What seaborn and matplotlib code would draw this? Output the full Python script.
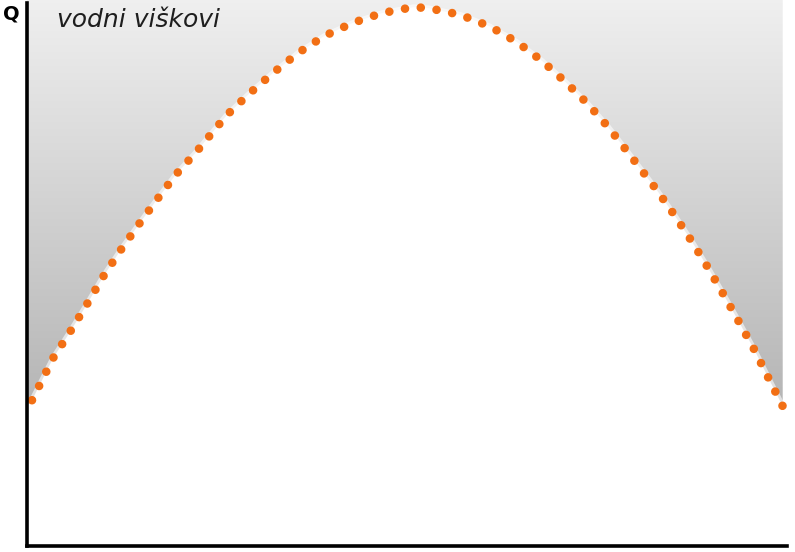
import numpy as np
import pandas as pd
import matplotlib
matplotlib.use("Agg")
import matplotlib.pyplot as plt
import seaborn as sns

# Curve (x: 0-100 along the time axis, Q: 0-100)
x_vals = [0.65, 3.39, 5.60, 7.81, 9.90, 12.1, 14.5, 16.9, 19.3, 22.0,
          26.0, 28.9, 32.0, 35.3, 38.7, 42.4, 46.2, 50.3, 52.3, 56.4,
          60.2, 63.8, 67.1, 70.1, 73.0, 75.7, 78.3, 82.0, 84.4, 86.6,
          88.7, 90.8, 92.8, 94.8, 96.6, 98.4]
q_vals = [26.7, 34.4, 39.2, 44.3, 49.3, 54.0, 58.8, 63.4, 67.9, 72.1,
          78.9, 82.8, 86.6, 90.3, 93.4, 95.8, 97.6, 98.7, 98.5, 97.3,
          95.2, 92.3, 88.8, 85.0, 81.0, 76.7, 72.0, 65.2, 60.4, 55.7,
          50.9, 45.8, 40.8, 35.7, 30.6, 25.6]

y_label = "Q"
title_text = "vodni viškovi"

df = pd.DataFrame({"x": x_vals, "q": q_vals})

sns.set_style("white")
plt.rcParams["font.family"] = ["DejaVu Sans"]

fig = plt.figure(figsize=(7.95, 5.52), dpi=100)
fig.patch.set_facecolor("white")
ax = fig.add_axes([27 / 795, 6 / 552, 1 - 27 / 795, 1 - 6 / 552])
ax.set_xlim(0, 100)
ax.set_ylim(0, 100)

# gradient fill above the curve
poly_x = [0.0] + x_vals + [x_vals[-1], 0.0]
poly_y = [q_vals[0] - 1.0] + q_vals + [100.5, 100.5]
fill = ax.fill(poly_x, poly_y, facecolor="none", edgecolor="none")[0]
grad = np.linspace(0, 1, 256).reshape(-1, 1)
top_c = np.array([0.94, 0.94, 0.94])
bot_c = np.array([0.70, 0.70, 0.70])
img = bot_c + (top_c - bot_c) * grad          # (256, 3)
img = np.repeat(img.reshape(256, 1, 3), 2, axis=1)
im = ax.imshow(img, extent=[0, 100, 22, 100.5], origin="lower",
               aspect="auto", interpolation="bilinear", zorder=1)
im.set_clip_path(fill)

# white halo + dotted orange curve
ax.plot(x_vals, q_vals, color="white", lw=4.0, alpha=0.6, zorder=2,
        solid_capstyle="round")
sns.lineplot(data=df, x="x", y="q", ax=ax, color="#f26f14", lw=6.2,
             linestyle=(0, (0.001, 1.85)), dash_capstyle="round",
             sort=False, zorder=3)

ax.set_xlabel("")
ax.set_ylabel("")
ax.set_xticks([])
ax.set_yticks([])
for s in ["top", "right"]:
    ax.spines[s].set_visible(False)
ax.spines["left"].set_color("black")
ax.spines["bottom"].set_color("black")
ax.spines["left"].set_linewidth(2.6)
ax.spines["bottom"].set_linewidth(2.6)
ax.spines["left"].set_bounds(0, 99.4)
ax.spines["bottom"].set_bounds(0, 98.9)
ax.spines["left"].set_zorder(5)
ax.spines["bottom"].set_zorder(5)

fig.text(3 / 795, 1 - 20 / 552, y_label, fontsize=14, fontweight="bold",
         color="black", va="baseline", ha="left")
fig.text(57 / 795, 1 - 27 / 552, title_text, fontsize=18, style="italic",
         color="#1e1e1e", va="baseline", ha="left")

fig.savefig("out.png", dpi=100, facecolor="white")
